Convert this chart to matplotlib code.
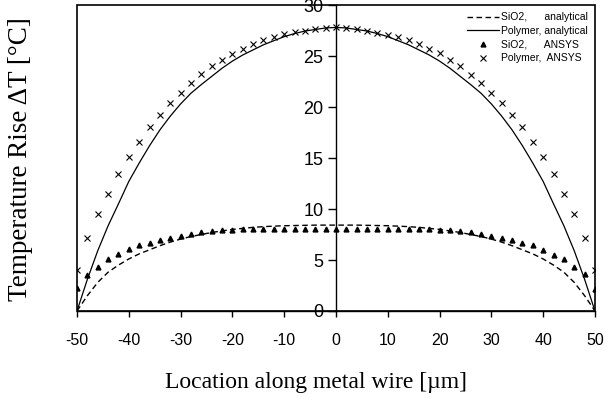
import matplotlib
matplotlib.use("Agg")
import matplotlib.pyplot as plt
import numpy as np

plt.rcParams["axes.unicode_minus"] = False

# location along the wire, every 2 um
loc = np.arange(-50, 51, 2)

sio2_analytical = [0.0, 1.5, 2.8, 3.8, 4.5, 5.1, 5.6, 6.0, 6.4, 6.75, 7.05, 7.3, 7.5,
                   7.7, 7.85, 8.0, 8.1, 8.2, 8.27, 8.32, 8.36, 8.38, 8.4, 8.42, 8.42,
                   8.42,
                   8.42, 8.42, 8.4, 8.38, 8.36, 8.32, 8.27, 8.2, 8.1, 8.0, 7.85, 7.7,
                   7.5, 7.3, 7.05, 6.75, 6.4, 6.0, 5.6, 5.1, 4.5, 3.8, 2.8, 1.5, 0.0]

polymer_analytical = [0.0, 3.1, 5.9, 8.35, 10.5, 12.7, 14.5, 16.2, 17.75, 19.1, 20.3,
                      21.35, 22.2, 23.0, 23.8, 24.5, 25.1, 25.6, 26.1, 26.5, 26.9,
                      27.2, 27.45, 27.6, 27.75,
                      27.8,
                      27.75, 27.6, 27.45, 27.2, 26.9, 26.5, 26.1, 25.6, 25.1, 24.5,
                      23.8, 23.0, 22.2, 21.35, 20.3, 19.1, 17.75, 16.2, 14.5, 12.7,
                      10.5, 8.35, 5.9, 3.1, 0.0]

sio2_ansys = [2.3, 3.5, 4.35, 5.05, 5.55, 6.05, 6.45, 6.7, 6.95, 7.2, 7.35, 7.55, 7.7,
              7.8, 7.9, 7.95, 8.0, 8.0, 8.0, 8.0, 8.0, 8.0, 8.0, 8.0, 8.0,
              8.0,
              8.0, 8.0, 8.0, 8.0, 8.0, 8.0, 8.0, 8.0, 8.0, 7.95, 7.9, 7.8, 7.7,
              7.55, 7.35, 7.2, 6.95, 6.7, 6.45, 6.0, 5.5, 5.07, 4.35, 3.6, 2.2]

polymer_ansys = [4.0, 7.2, 9.5, 11.5, 13.4, 15.1, 16.6, 18.0, 19.2, 20.4, 21.4, 22.4,
                 23.2, 24.0, 24.6, 25.2, 25.7, 26.2, 26.6, 26.9, 27.2, 27.4, 27.5,
                 27.6, 27.75,
                 27.8,
                 27.75, 27.6, 27.45, 27.3, 27.1, 26.9, 26.6, 26.2, 25.7, 25.3, 24.6,
                 24.0, 23.1, 22.4, 21.4, 20.4, 19.2, 18.0, 16.6, 15.1, 13.4, 11.5,
                 9.5, 7.2, 4.0]

x_ticks = [-50, -40, -30, -20, -10, 0, 10, 20, 30, 40, 50]
y_ticks = [0, 5, 10, 15, 20, 25, 30]

sans = "Liberation Sans"
serif = "Liberation Serif"

fig = plt.figure(figsize=(6.13, 3.98), dpi=100)
ax = fig.add_axes([0.1256, 0.2186, 0.845, 0.7688])

ax.plot(loc, sio2_analytical, color="black", lw=1.0, ls=(0, (4, 2.5)),
        label="SiO2,      analytical")
ax.plot(loc, polymer_analytical, color="black", lw=0.9, ls="-",
        label="Polymer, analytical")
ax.plot(loc, sio2_ansys, ls="none", marker="^", ms=3.5, color="black",
        label="SiO2,      ANSYS")
ax.plot(loc, polymer_ansys, ls="none", marker="x", ms=5, mew=0.8, color="black",
        label="Polymer,  ANSYS")

ax.set_xlim(-50, 50)
ax.set_ylim(0, 30)

# y axis sits in the middle, the box is drawn by the axes patch
ax.spines["left"].set_position(("data", 0))
ax.spines["right"].set_visible(False)
ax.spines["top"].set_visible(False)
ax.patch.set_edgecolor("black")
ax.patch.set_linewidth(1.2)
for s in ["left", "bottom"]:
    ax.spines[s].set_linewidth(1.0)

ax.set_xticks(x_ticks)
ax.set_yticks(y_ticks)
ax.tick_params(axis="x", direction="out", length=4, width=1, pad=12)
ax.tick_params(axis="y", direction="out", length=6, width=1, pad=3)
for t in ax.get_xticklabels():
    t.set_fontfamily(sans)
    t.set_fontsize(11.5)
for t in ax.get_yticklabels():
    t.set_fontfamily(sans)
    t.set_fontsize(13)

leg = ax.legend(loc="upper right", frameon=False, prop={"family": sans, "size": 7.5},
                handlelength=3.0, handletextpad=0.2, labelspacing=0.35,
                borderaxespad=0.3)

fig.text(0.034, 0.6, "Temperature Rise \u0394T [\u00b0C]", rotation=90,
         ha="center", va="center", fontfamily=serif, fontsize=19.5)
fig.text(0.515, 0.04, "Location along metal wire [\u00b5m]", ha="center",
         va="center", fontfamily=serif, fontsize=17)

fig.savefig("out.png", dpi=100)
